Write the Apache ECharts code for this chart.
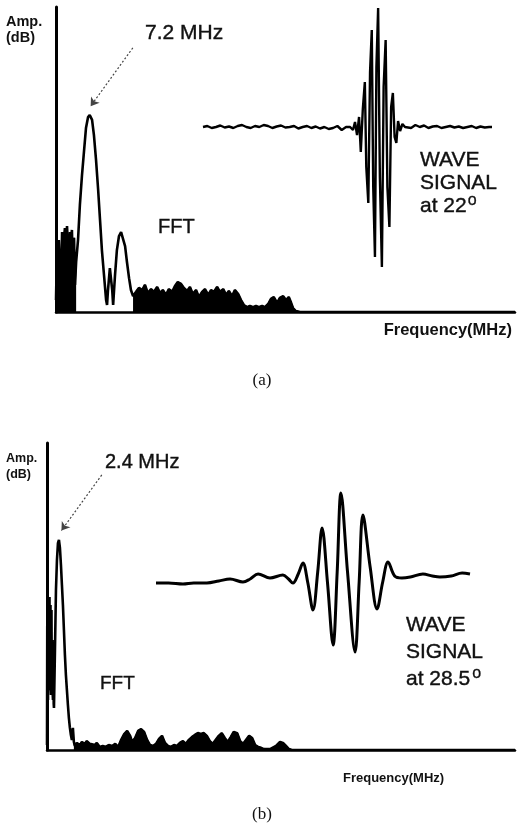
<!DOCTYPE html>
<html>
<head>
<meta charset="utf-8">
<script src="https://cdn.jsdelivr.net/npm/echarts@6/dist/echarts.min.js"></script>
<style>
html,body{margin:0;padding:0;background:#fff;}
#chart{width:519px;height:832px;}
</style>
</head>
<body>
<div id="chart"></div>
<script>
// ---------------- DATA ----------------
// Panel (a): FFT spectrum [frequency MHz, amplitude dB (relative)]
const fftA = [
  [0,3.9],[0.2,20.3],[0.4,7.2],[0.6,23.6],[0.85,13.8],[1.05,5.6],[1.3,26.2],[1.5,15.4],
  [1.7,23.6],[1.9,27.5],[2.1,16.4],[2.35,28.2],[2.55,22.0],[2.8,5.2],[3.0,26.2],[3.2,23.6],
  [3.4,26.9],[3.6,13.8],[3.85,24.3],[4.05,8.9],[4.3,16.4],[4.7,23.6],[5.1,35.1],[5.55,44.9],
  [6.0,53.1],[6.4,60.3],[6.85,63.9],[7.2,64.6],[7.7,63.0],[8.1,58.0],[8.55,49.8],[9.0,40.0],
  [9.4,30.2],[9.8,20.3],[10.25,12.1],[10.7,3.9],[10.9,2.3],[11.1,7.2],[11.5,14.4],[12.0,7.2],
  [12.2,2.3],[12.6,12.1],[13.0,20.3],[13.45,24.9],[13.9,26.2],[14.3,25.6],[14.75,21.6],[15.15,16.4],
  [15.6,11.1],[16.0,7.2],[16.45,5.2],
  [17.1,6.6],[17.7,7.9],[18.4,7.2],[19.0,8.9],[19.6,6.2],[20.3,7.5],[20.9,6.6],[21.6,8.2],
  [22.2,6.2],[22.8,7.2],[23.5,5.6],[24.1,7.5],[24.8,6.6],[25.4,8.5],[26.0,9.8],[26.7,9.2],
  [27.3,7.9],[28.0,6.9],[28.6,8.2],[29.2,5.9],[29.9,7.2],[30.5,4.9],[31.2,6.6],[31.8,7.5],
  [32.5,5.6],[33.1,7.2],[33.7,6.6],[34.4,8.2],[35.0,6.6],[35.7,7.5],[36.3,5.6],[36.9,6.9],
  [37.6,5.2],[38.2,7.2],[38.9,5.9],[39.5,3.9],[40.1,2.3],[40.8,1.6],[41.4,2.0],[42.1,1.6],
  [42.7,2.0],[43.3,1.6],[44.0,2.0],[44.6,1.6],[45.3,2.6],[45.9,4.3],[46.5,4.9],[47.2,3.0],
  [47.8,4.6],[48.5,5.2],[49.1,3.9],[49.7,4.9],[50.2,3.0],[50.6,1.3],[51.2,0.3],[52.1,0],
  [98,0]
];
// Panel (a): wave signal at 22 deg [time (rel.), amplitude (rel.)]
const waveA = [
  [0,0],[1.5,1],[3,-1],[4.5,0],[6,1.5],[7.5,-0.5],[9,0.5],[10.5,-1],[12,1],[13.5,2],[15,0],
  [16.5,-1],[18,1],[19.5,0],[21,2],[22.5,1],[24,-1],[25.5,0.5],[27,1.5],[28.5,-0.5],[30,0],
  [31.5,1],[33,-1.5],[34.5,0],[36,1],[37.5,-1],[39,0.5],[40.5,-1.5],[42,0],[43.5,-2],[45,-1],
  [46.5,1],[48,-3],[49.5,0],
  [50.9,0],[51.9,-3],[52.6,5],[53.3,-8],[54.0,10],[54.6,-25],[55.3,18],[56.0,45],[56.5,-40],
  [57.2,-76],[57.8,55],[58.4,97],[58.9,-60],[59.5,-130],[60.0,60],[60.6,119],[61.2,-50],
  [61.9,-140],[62.5,40],[63.2,87],[63.8,-60],[64.5,-100],[65.1,20],[65.7,34],[66.3,-10],
  [66.9,-16],[67.5,6],[68.2,-4],[69.0,3],[69.9,0],
  [70.5,1],[72,-1],[73.5,2],[75,0],[76.5,1.5],[78,-1],[79.5,0.5],[81,1],[82.5,-1],[84,0],
  [85.5,1],[87,-0.5],[88.5,0.5],[90,-1],[91.5,0],[93,1],[94.5,-1],[96,0.5],[97.5,-0.5],[99,0],[100,0]
];
// Panel (b): FFT spectrum [frequency MHz, amplitude dB (relative)]
const fftB = [
  [0,1.6],[0.05,40.0],[0.1,45.6],[0.15,20.0],[0.2,16.3],[0.25,44.0],[0.3,48.9],[0.35,22.0],
  [0.4,19.5],[0.45,46.0],[0.5,49.8],[0.55,25.0],[0.6,22.8],[0.65,44.0],[0.7,47.2],[0.75,20.0],
  [0.8,17.9],[0.85,42.0],[0.9,45.6],[0.95,22.0],[1.0,19.5],[1.05,33.0],[1.1,35.8],[1.15,18.0],
  [1.2,16.3],[1.25,27.0],[1.3,29.3],[1.35,15.0],[1.4,13.7],[1.6,32.6],
  [1.8,52.1],[2.0,61.9],[2.2,67.4],[2.4,68.4],[2.6,65.8],[2.8,60.3],[3.0,53.7],[3.2,47.2],
  [3.4,39.1],[3.6,30.9],[3.8,24.4],[4.0,19.5],[4.2,14.7],[4.4,10.4],[4.6,7.2],[4.8,4.9],
  [5.0,3.3],[5.2,7.2],[5.4,2.6],
  [5.6,1.3],[6.0,2.3],[6.6,1.6],[7.0,2.6],[7.6,2.0],[8.0,2.9],[8.6,2.0],[9.0,2.6],[9.6,1.6],
  [10.0,2.3],[10.6,1.0],[11.2,1.3],[11.8,1.0],[12.4,1.6],[13.1,1.3],[13.7,2.0],[14.3,1.0],
  [14.9,3.3],[15.5,5.2],[16.1,6.2],[16.7,4.6],[17.1,2.6],[17.7,3.9],[18.3,6.2],[18.9,6.8],
  [19.5,5.9],[20.1,3.3],[20.7,1.6],[21.3,1.3],[21.9,2.0],[22.5,3.6],[23.1,4.6],[23.7,2.3],
  [24.3,1.3],[24.9,1.0],[25.5,1.6],[26.1,1.3],[26.7,2.3],[27.3,2.9],[27.9,2.0],[28.5,3.3],
  [29.1,4.2],[29.7,4.9],[30.3,5.5],[30.9,5.2],[31.5,5.5],[32.1,4.6],[32.7,2.9],[33.3,2.0],
  [33.9,3.3],[34.5,4.6],[35.1,5.5],[35.7,3.9],[36.3,2.6],[36.9,4.2],[37.5,5.9],[38.2,5.5],
  [38.8,2.9],[39.4,2.0],[40.0,3.3],[40.6,4.6],[41.2,3.9],[41.8,1.6],[42.4,1.0],[43.0,0.7],
  [43.6,0.3],[44.8,0.3],[46.0,1.3],[46.8,2.6],[47.4,2.3],[48.0,1.3],[48.6,0.3],[49.2,0],
  [94,0]
];
// Panel (b): wave signal at 28.5 deg [time (rel.), amplitude (rel.)]
const waveB = [
  [0,-1],[4,-1],[8.6,-2],[12,-1],[16.2,-1],[20,1],[23.6,3],[27.7,0],[30,3],[32.5,8],[36.3,4],
  [40.4,7],[42.2,3],[43.6,-1],[45.3,8],[46.8,19],[48.3,0],[50.0,-28],[51.5,10],[52.9,54],
  [54.6,0],[56.4,-63],[57.7,10],[58.9,89],[61.0,10],[63.4,-70],[64.7,0],[65.9,67],[68.2,15],
  [70.4,-27],[72.2,0],[73.9,20],[76,6],[78.3,4],[81,5],[85.0,8],[88,6],[90.4,5],[94,6],
  [97.5,9],[100,8]
];
// Annotations
const peakLabels = ['7.2 MHz', '2.4 MHz'];
const waveLabelA = ['WAVE', 'SIGNAL', 'at 22'];
const waveLabelB = ['WAVE', 'SIGNAL', 'at 28.5'];
const degreeMark = 'o';
const axisNames = { amp: ['Amp.', '(dB)'], freq: 'Frequency(MHz)' };
const panelTags = ['(a)', '(b)'];

// ---------------- CHART ----------------
const SANS = '"Liberation Sans", Arial, Helvetica, sans-serif';
const SERIF = '"Liberation Serif", "DejaVu Serif", serif';
const INK = '#111';

const measureCtx = document.createElement('canvas').getContext('2d');
function textWidth(text, size, weight) {
  measureCtx.font = (weight || 'normal') + ' ' + size + 'px ' + SANS;
  return measureCtx.measureText(text).width;
}
function range(arr, from, to) {
  return arr.filter(p => p[0] >= from && p[0] <= to);
}
function visAxis(grid, max, w) {
  return { gridIndex: grid, type: 'value', min: 0, max: max,
    axisLine: { show: true, onZero: false, lineStyle: { color: '#000', width: w } },
    axisTick: { show: false }, axisLabel: { show: false }, splitLine: { show: false } };
}
function hidAxis(grid, min, max) {
  return { gridIndex: grid, type: 'value', min: min, max: max, show: false,
    axisLine: { show: false }, splitLine: { show: false } };
}
function txt(text, x, y, size, opts) {
  opts = opts || {};
  return { type: 'text', x: x, y: y, silent: true,
    style: { text: text, fill: INK, fontFamily: opts.family || SANS,
      fontSize: size, fontWeight: opts.weight || 'normal',
      stroke: opts.stroke ? INK : null, lineWidth: opts.stroke || 0,
      align: opts.align || 'left', verticalAlign: 'middle' } };
}
function arrow(from, to) {
  return { silent: true, symbol: ['none', 'arrow'], symbolSize: 8,
    label: { show: false }, emphasis: { disabled: true },
    lineStyle: { color: '#444', width: 1.2, type: [2, 2] },
    data: [[{ coord: from }, { coord: to }]] };
}
function fillSeries(name, xi, data) {
  return { name: name, type: 'line', xAxisIndex: xi, yAxisIndex: xi, symbol: 'none',
    data: data, lineStyle: { color: '#000', width: 1.5 },
    areaStyle: { color: '#000', opacity: 1 }, silent: true };
}

const WS = 21; // wave label font size
const wA = textWidth(waveLabelA[2], WS);
const wB = textWidth(waveLabelB[2], WS);

const chart = echarts.init(document.getElementById('chart'), null, { renderer: 'canvas' });
chart.setOption({
  animation: false,
  backgroundColor: '#ffffff',
  grid: [
    { left: 56, top: 7, width: 459, height: 305 },
    { left: 203, top: 7, width: 289, height: 260 },
    { left: 47, top: 443, width: 468, height: 307 },
    { left: 156, top: 482, width: 314, height: 180 }
  ],
  xAxis: [ visAxis(0, 98, 2.5), hidAxis(1, 0, 100), visAxis(2, 94, 2.5), hidAxis(3, 0, 100) ],
  yAxis: [ visAxis(0, 100, 3), hidAxis(1, -140, 120), visAxis(2, 100, 3), hidAxis(3, -80, 100) ],
  series: [
    fillSeries('FFT low noise (a)', 0, range(fftA, 0, 4.3)),
    fillSeries('FFT noise (a)', 0, range(fftA, 16.4, 98)),
    { name: 'FFT (a)', type: 'line', xAxisIndex: 0, yAxisIndex: 0, symbol: 'none',
      data: fftA, lineStyle: { color: '#000', width: 2.6 }, silent: true,
      markLine: arrow([16.4, 86.6], [7.4, 67.5]) },
    { name: 'Wave (a)', type: 'line', xAxisIndex: 1, yAxisIndex: 1, symbol: 'none',
      data: waveA, lineStyle: { color: '#000', width: 2.4 }, silent: true },
    fillSeries('FFT noise (b)', 2, range(fftB, 5.4, 94)),
    { name: 'FFT (b)', type: 'line', xAxisIndex: 2, yAxisIndex: 2, symbol: 'none',
      data: fftB, lineStyle: { color: '#000', width: 2.6 }, silent: true,
      markLine: arrow([11.0, 89.6], [2.9, 71.5]) },
    { name: 'Wave (b)', type: 'line', xAxisIndex: 3, yAxisIndex: 3, symbol: 'none', smooth: 0.35,
      data: waveB, lineStyle: { color: '#000', width: 3 }, silent: true }
  ],
  graphic: [
    // panel (a)
    txt(axisNames.amp[0], 6, 22, 14.5, { weight: 'bold' }),
    txt(axisNames.amp[1], 6, 38, 14.5, { weight: 'bold' }),
    txt(peakLabels[0], 145, 33, 21, { stroke: 0.4 }),
    txt('FFT', 158, 227, 20, { stroke: 0.4 }),
    txt(waveLabelA[0], 420, 160, WS, { stroke: 0.4 }),
    txt(waveLabelA[1], 420, 183, WS, { stroke: 0.4 }),
    txt(waveLabelA[2], 420, 206, WS, { stroke: 0.4 }),
    txt(degreeMark, 420 + wA + 1, 201, 16, { stroke: 0.3 }),
    txt(axisNames.freq, 512, 330, 16.5, { weight: 'bold', align: 'right' }),
    txt(panelTags[0], 262, 381, 17, { family: SERIF, align: 'center' }),
    // panel (b)
    txt(axisNames.amp[0], 6, 459, 12.5, { weight: 'bold' }),
    txt(axisNames.amp[1], 6, 475, 12.5, { weight: 'bold' }),
    txt(peakLabels[1], 105, 462, 20, { stroke: 0.4 }),
    txt('FFT', 100, 684, 19, { stroke: 0.4 }),
    txt(waveLabelB[0], 406, 625, WS, { stroke: 0.4 }),
    txt(waveLabelB[1], 406, 652, WS, { stroke: 0.4 }),
    txt(waveLabelB[2], 406, 679, WS, { stroke: 0.4 }),
    txt(degreeMark, 406 + wB + 2, 674, 16, { stroke: 0.3 }),
    txt(axisNames.freq, 343, 778, 13, { weight: 'bold' }),
    txt(panelTags[1], 262, 815, 17, { family: SERIF, align: 'center' })
  ]
});
</script>
</body>
</html>
